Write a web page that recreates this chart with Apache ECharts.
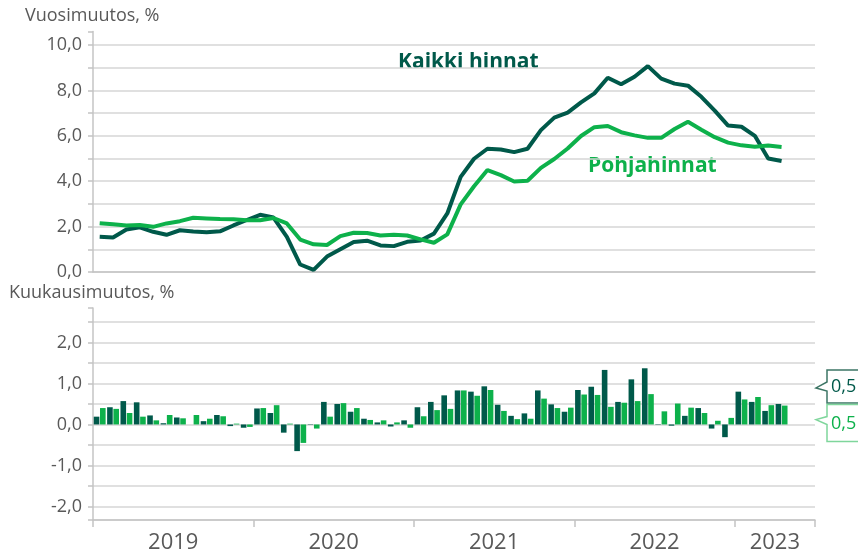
<!DOCTYPE html>
<html>
<head>
<meta charset="utf-8">
<script src="https://cdn.jsdelivr.net/npm/echarts@6/dist/echarts.min.js"></script>
<style>
  html, body { margin: 0; padding: 0; background: #fff; }
  #chart { width: 858px; height: 559px; }
</style>
</head>
<body>
<div id="chart"></div>
<script>
// tammikuu 2019 - kesäkuu 2023 (data huhtikuuhun 2023 asti)
const years = ['2019', '2020', '2021', '2022', '2023']
const months = []
years.forEach(y => {
  for (let m = 1; m <= 12; m++) months.push(y + '-' + String(m).padStart(2, '0'))
})
const categories = months.slice(0, 54)
const yearLabelIdx = [6, 18, 30, 42, 51]

// vuosimuutos, %
const vuosiKaikki = [
  1.55, 1.52, 1.87, 1.97, 1.77, 1.64, 1.84, 1.78, 1.75, 1.79, 2.05, 2.29,
  2.52, 2.40, 1.55, 0.33, 0.09, 0.68, 1.00, 1.32, 1.38, 1.17, 1.14, 1.33,
  1.39, 1.69, 2.58, 4.19, 4.99, 5.43, 5.40, 5.28, 5.43, 6.25, 6.80, 7.02,
  7.47, 7.87, 8.56, 8.27, 8.60, 9.07, 8.52, 8.30, 8.21, 7.72, 7.11, 6.45,
  6.40, 6.00, 5.00, 4.89
]
const vuosiPohja = [
  2.15, 2.10, 2.05, 2.07, 1.99, 2.14, 2.24, 2.39, 2.36, 2.33, 2.32, 2.28,
  2.28, 2.38, 2.14, 1.43, 1.22, 1.19, 1.58, 1.73, 1.72, 1.61, 1.64, 1.61,
  1.44, 1.29, 1.66, 2.98, 3.78, 4.49, 4.27, 3.99, 4.02, 4.59, 4.98, 5.44,
  5.99, 6.38, 6.43, 6.16, 6.02, 5.91, 5.91, 6.30, 6.62, 6.27, 5.94, 5.70,
  5.58, 5.52, 5.57, 5.51
]

// kuukausimuutos, %
const kkKaikki = [
  0.19, 0.42, 0.57, 0.54, 0.22, 0.03, 0.17, 0.00, 0.08, 0.23, -0.04, -0.08,
  0.39, 0.28, -0.20, -0.65, 0.01, 0.55, 0.50, 0.31, 0.14, 0.05, -0.05, 0.10,
  0.42, 0.55, 0.71, 0.83, 0.80, 0.93, 0.48, 0.21, 0.27, 0.83, 0.49, 0.31,
  0.84, 0.92, 1.33, 0.55, 1.10, 1.37, 0.01, -0.03, 0.21, 0.40, -0.10, -0.31,
  0.80, 0.55, 0.33, 0.50
]
const kkPohja = [
  0.40, 0.38, 0.28, 0.19, 0.10, 0.23, 0.15, 0.23, 0.14, 0.20, 0.02, -0.06,
  0.40, 0.47, 0.02, -0.45, -0.10, 0.19, 0.52, 0.40, 0.11, 0.10, 0.05, -0.08,
  0.20, 0.35, 0.38, 0.83, 0.70, 0.84, 0.33, 0.13, 0.14, 0.63, 0.40, 0.41,
  0.73, 0.72, 0.43, 0.53, 0.57, 0.74, 0.32, 0.51, 0.41, 0.28, 0.09, 0.16,
  0.61, 0.67, 0.47, 0.46
]

const DARK = '#00594a'
const GREEN = '#0db14b'
const GRID = '#d6d6d6'
const AXIS = '#c4c4c4'
const TEXT = '#595959'
const FONT = 'Open Sans'

function fmt(v) {
  return v.toFixed(1).replace('.', ',')
}

function valueLabel(step) {
  return (v) => {
    const r = Math.round(v / step) * step
    return Math.abs(v - r) < 1e-6 ? fmt(v) : ''
  }
}

const yAxisBase = {
  type: 'value',
  splitNumber: 10,
  axisLine: { show: true, lineStyle: { color: AXIS, width: 1.5 } },
  axisTick: { show: true, length: 5, lineStyle: { color: AXIS, width: 1.5 } },
  splitLine: { show: true, showMaxLine: false, lineStyle: { color: GRID, width: 1.5 } },
  axisLabel: { color: TEXT, fontFamily: FONT, fontSize: 18, margin: 11 },
}

const option = {
  animation: false,
  backgroundColor: '#fff',
  grid: [
    { left: 93, right: 43, top: 31.4, height: 240.6 },
    { left: 93, right: 43, top: 308, height: 212 },
  ],
  xAxis: [
    {
      type: 'category', gridIndex: 0, data: categories, boundaryGap: true,
      axisLine: { onZero: false, lineStyle: { color: AXIS, width: 1.5 } },
      axisTick: { show: false },
      axisLabel: { show: false },
    },
    {
      type: 'category', gridIndex: 1, data: categories, boundaryGap: true,
      axisLine: { onZero: false, lineStyle: { color: AXIS, width: 1.5 } },
      axisTick: { show: true, length: 7, interval: (i) => i % 12 === 0, lineStyle: { color: AXIS, width: 1.5 } },
      axisLabel: {
        interval: (i) => yearLabelIdx.includes(i),
        formatter: (v) => v.slice(0, 4),
        color: TEXT, fontFamily: FONT, fontSize: 22, margin: 12,
        padding: [0, 13.4, 0, 0],
      },
    },
  ],
  yAxis: [
    { ...yAxisBase, gridIndex: 0, min: 0, max: 10.6, axisLabel: { ...yAxisBase.axisLabel, formatter: valueLabel(2) } },
    { ...yAxisBase, gridIndex: 1, min: -2.33, max: 2.84, axisLabel: { ...yAxisBase.axisLabel, formatter: valueLabel(1) } },
  ],
  graphic: [
    { type: 'text', left: 25, top: 7, style: { text: 'Vuosimuutos, %', fill: TEXT, font: '18px "Open Sans"' } },
    { type: 'text', left: 9, top: 284, style: { text: 'Kuukausimuutos, %', fill: TEXT, font: '18px "Open Sans"' } },
    { type: 'text', left: 398, top: 52, style: { text: 'Kaikki hinnat', fill: DARK, font: 'bold 21px "Open Sans"' } },
    { type: 'text', left: 588, top: 156, style: { text: 'Pohjahinnat', fill: GREEN, font: 'bold 21px "Open Sans"' } },
  ],
  series: [
    {
      name: 'Kaikki hinnat', type: 'line', xAxisIndex: 0, yAxisIndex: 0,
      data: vuosiKaikki, symbol: 'none', lineStyle: { color: DARK, width: 4 }, itemStyle: { color: DARK },
    },
    {
      name: 'Pohjahinnat', type: 'line', xAxisIndex: 0, yAxisIndex: 0,
      data: vuosiPohja, symbol: 'none', lineStyle: { color: GREEN, width: 4 }, itemStyle: { color: GREEN },
    },
    {
      name: 'Kaikki hinnat kk', type: 'bar', xAxisIndex: 1, yAxisIndex: 1,
      data: kkKaikki, barWidth: 5.6, barGap: '12%', itemStyle: { color: DARK },
    },
    {
      name: 'Pohjahinnat kk', type: 'bar', xAxisIndex: 1, yAxisIndex: 1,
      data: kkPohja, barWidth: 5.6, barGap: '12%', itemStyle: { color: GREEN },
    },
  ],
}

const chart = echarts.init(document.getElementById('chart'))
chart.setOption(option)

// viimeisten kuukausimuutosten selitelaatikot oikeassa reunassa
function callout(value, dy, top, bottom, notchUp, notchDown, stroke, color) {
  const t = chart.convertToPixel({ yAxisIndex: 1 }, value) + dy
  const bx = 827, tip = 816, rx = 880
  return [
    {
      type: 'polygon', z: 10,
      shape: { points: [[bx, t - top], [rx, t - top], [rx, t + bottom], [bx, t + bottom], [bx, t + notchDown], [tip, t], [bx, t - notchUp]] },
      style: { fill: '#fff', stroke: stroke, lineWidth: 1.5 },
    },
    {
      type: 'text', z: 11, x: 831, y: t + (bottom - top) / 2 + 0.5,
      style: { text: fmt(value), fill: color, font: '18px "Open Sans"', verticalAlign: 'middle' },
    },
  ]
}

const last = kkKaikki.length - 1
chart.setOption({
  graphic: option.graphic.concat(
    callout(kkKaikki[last], -16, 18, 15, 6, 3, '#3d7565', DARK),
    callout(kkPohja[last], 14, 15, 22, 3, 5, '#7fd69c', GREEN)
  ),
})
</script>
</body>
</html>
